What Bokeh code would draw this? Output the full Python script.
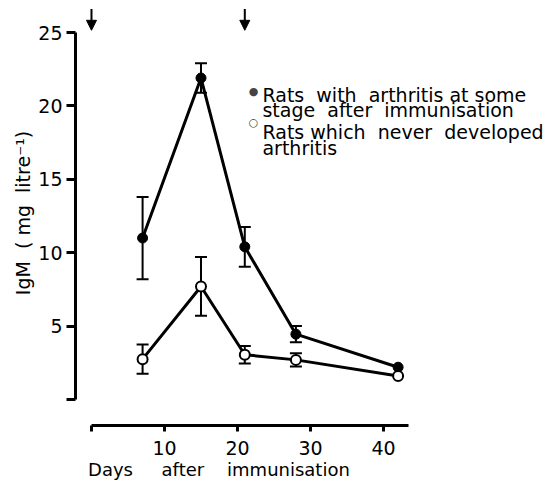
from bokeh.plotting import figure
from bokeh.models import (Range1d, FixedTicker, Whisker, ColumnDataSource, Arrow,
                          NormalHead, Label, TeeHead)
from bokeh.embed import file_html
from bokeh.resources import INLINE

# ---- data ----
days = [7, 15, 21, 28, 42]
arth_mean = [11.0, 21.9, 10.4, 4.45, 2.2]
arth_err = [2.8, 1.0, 1.35, 0.55, 0.0]
never_mean = [2.75, 7.7, 3.05, 2.7, 1.6]
never_err = [1.0, 2.0, 0.6, 0.45, 0.0]
arrow_days = [0, 21]
y_ticks = [0, 5, 10, 15, 20, 25]
x_ticks = [0, 10, 20, 30, 40]
NB = "\u00a0"
legend_lines = ["Rats" + NB + " with" + NB + " arthritis at some",
                "stage" + NB + " after" + NB + " immunisation",
                "Rats which" + NB + " never" + NB + " developed",
                "arthritis"]
y_title = "IgM" + NB + " ( mg" + NB + " litre\u207b\u00b9)"
# trailing padding: Bokeh centres the label on the frame
x_title = "Days" + NB * 4 + " after" + NB * 3 + " immunisation" + NB * 32

FONT = "DejaVu Sans"
FS = "19px"

p = figure(width=545, height=482,
           x_range=Range1d(-2.19, 62.19), y_range=Range1d(-1.77, 27.18),
           output_backend="svg", toolbar_location=None,
           min_border_left=75, min_border_right=0, min_border_top=0,
           min_border_bottom=57)
p.xgrid.visible = False
p.ygrid.visible = False
p.outline_line_color = None
p.background_fill_color = "white"

for ax in (p.xaxis[0], p.yaxis[0]):
    ax.axis_line_width = 3
    ax.axis_line_color = "black"
    ax.major_tick_line_width = 3
    ax.major_tick_line_color = "black"
    ax.major_tick_in = 0
    ax.minor_tick_in = 0
    ax.minor_tick_out = 0
    ax.major_label_text_font = FONT
    ax.major_label_text_font_size = FS
    ax.major_label_text_color = "black"
    ax.axis_label_text_font = FONT
    ax.axis_label_text_font_style = "normal"
    ax.axis_label_text_color = "black"

p.yaxis.ticker = FixedTicker(ticks=y_ticks)
p.yaxis.bounds = (0, 25)
p.yaxis.major_label_overrides = {0: ""}
p.yaxis.major_tick_out = 9
p.yaxis.major_label_standoff = 4
p.yaxis.axis_label = y_title
p.yaxis.axis_label_text_font_size = FS
p.yaxis.axis_label_standoff = 1

p.xaxis.ticker = FixedTicker(ticks=x_ticks)
p.xaxis.bounds = (0, 43.4)
p.xaxis.major_label_overrides = {0: ""}
p.xaxis.major_tick_out = 6
p.xaxis.major_label_standoff = 9
p.xaxis.axis_label = x_title
p.xaxis.axis_label_text_font_size = "18px"
p.xaxis.axis_label_standoff = 1

# error bars
def err_source(m, e):
    xs, lo, hi = [], [], []
    for d, v, s in zip(days, m, e):
        if s > 0:
            xs.append(d); lo.append(v - s); hi.append(v + s)
    return ColumnDataSource(dict(x=xs, lower=lo, upper=hi))

for m, e in ((arth_mean, arth_err), (never_mean, never_err)):
    w = Whisker(base="x", lower="lower", upper="upper", source=err_source(m, e),
                line_width=2, line_color="black", level="underlay",
                upper_head=TeeHead(size=12, line_width=2, line_color="black"),
                lower_head=TeeHead(size=12, line_width=2, line_color="black"))
    p.add_layout(w)

p.line(days, arth_mean, line_width=3, line_color="black")
p.line(days, never_mean, line_width=3, line_color="black")
p.scatter(days, arth_mean, size=10, fill_color="black", line_color="black")
p.scatter(days, never_mean, size=10, fill_color="white", line_color="black",
          line_width=2)

# immunisation arrows
ARROW_TOP, ARROW_TIP = 26.6, 25.15
asrc = ColumnDataSource(dict(x=arrow_days, y0=[ARROW_TOP] * len(arrow_days),
                             y1=[ARROW_TIP] * len(arrow_days)))
p.add_layout(Arrow(end=NormalHead(size=10, fill_color="black", line_color="black"),
                   x_start="x", y_start="y0", x_end="x", y_end="y1",
                   source=asrc, line_width=2, line_color="black"))

# legend (text)
leg_x = 23.42
leg_y = [20.71, 19.69, 18.19, 17.10]
for t, yy in zip(legend_lines, leg_y):
    p.add_layout(Label(x=leg_x, y=yy, text=t, text_font=FONT, text_font_size=FS,
                       text_baseline="alphabetic", text_color="black"))
p.add_layout(Label(x=22.19, y=20.99, text="\u25cf", text_font=FONT, text_font_size="11px",
                   text_align="center", text_baseline="middle"))
p.add_layout(Label(x=22.19, y=18.87, text="\u25cb", text_font=FONT, text_font_size="11px",
                   text_align="center", text_baseline="middle"))

open("out.html", "w").write(file_html(p, INLINE))
